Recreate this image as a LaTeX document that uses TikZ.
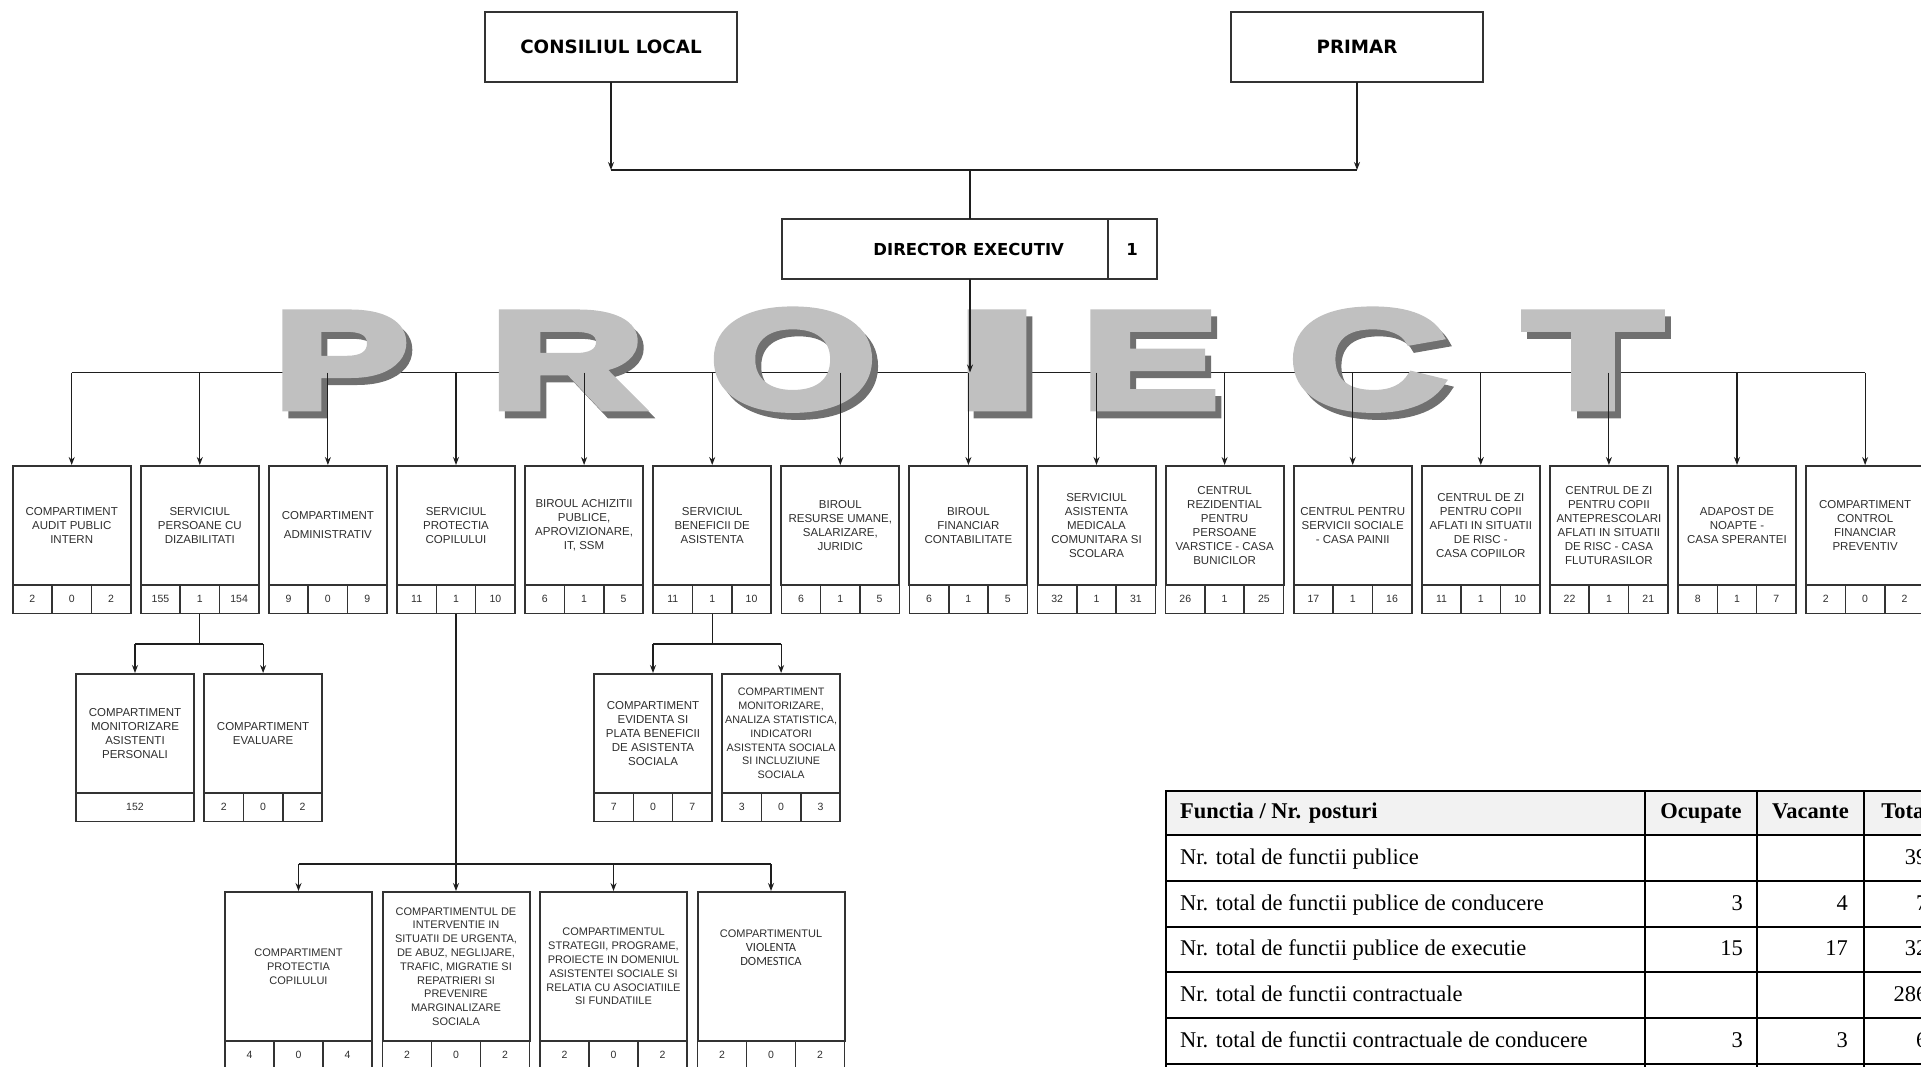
\documentclass[tikz,border=0pt]{standalone}
\usepackage{fontspec}
\setmainfont{Liberation Sans}
\newfontfamily\headfont{DejaVu Sans}
\newfontfamily\tabfont{Liberation Serif}
\newfontfamily\calfont{Carlito}
\newfontfamily\wmfont{Liberation Sans}[UprightFont={* Bold},FakeBold=5]
\usetikzlibrary{calc,positioning,arrows.meta}
\definecolor{boxclr}{HTML}{333333}
\definecolor{inkgray}{HTML}{2E2E2E}
\definecolor{lineclr}{HTML}{1E1E1E}
\definecolor{wmlight}{HTML}{C0C0C0}
\definecolor{wmdark}{HTML}{707070}
\definecolor{headfill}{HTML}{F2F2F2}
\tikzset{
  >={Stealth[length=8pt,width=6pt]},
  topbox/.style={
    rectangle,
    draw=boxclr, line width=2pt, outer sep=0pt,
    minimum width=252pt,
    minimum height=70pt,
    font=\headfont\bfseries\fontsize{18.3}{21}\selectfont},
  dirbox/.style={
    rectangle,
    draw=boxclr, line width=2pt, outer sep=0pt,
    minimum width=326pt,
    minimum height=60pt,
    font=\headfont\bfseries\fontsize{16.5}{20}\selectfont},
  dircell/.style={dirbox, minimum width=49pt},
  unitbox/.style={
    rectangle,
    draw=boxclr, line width=2pt, outer sep=0pt,
    minimum width=118pt,
    minimum height=119pt,
    inner sep=1pt,
    align=center,
    text=inkgray,
    font=\fontsize{11.5}{14}\selectfont},
  widebox/.style={unitbox, minimum width=147pt, minimum height=149pt,
    font=\fontsize{11}{13.8}\selectfont},
  countrow/.style={draw=boxclr, line width=1.6pt},
  countnum/.style={text=inkgray, inner sep=0pt, font=\fontsize{10.5}{12}\selectfont},
  link/.style={draw=lineclr, line width=1.1pt},
  wmletter/.style={inner sep=0pt, anchor=base},
  tabline/.style={draw=black, line width=2pt},
  tabtext/.style={inner sep=0pt, text height=15pt, text depth=4pt,
    font=\tabfont\fontsize{22.5}{26}\selectfont},
}
% three cells with the posts under a box
\newcommand{\unitcounts}[4]{%
  \draw[countrow] (#1.south west) rectangle ($(#1.south east)+(0,28.5)$);
  \draw[countrow] ($(#1.south west)!1/3!(#1.south east)$) -- ++(0,28.5)
                  ($(#1.south west)!2/3!(#1.south east)$) -- ++(0,28.5);
  \node[countnum] (#1-occ) at ($(#1.south west)!1/6!(#1.south east)+(0,14.25)$) {#2};
  \node[countnum] (#1-vac) at ($(#1.south)+(0,14.25)$) {#3};
  \node[countnum] (#1-tot) at ($(#1.south west)!5/6!(#1.south east)+(0,14.25)$) {#4};
}

\begin{document}
\begin{tikzpicture}[x=1pt, y=-1pt]
  \useasboundingbox (0,0) rectangle (1921,1066);
  % head of the chart
  \node[topbox] (consiliu) at (611,47) {CONSILIUL LOCAL};
  \node[topbox] (primar) at (1357,47) {PRIMAR};
  \node[dirbox] (dir) at (944.7,249) {\hspace*{48pt}DIRECTOR EXECUTIV};
  \node[dircell, right=0pt of dir] (dirnr) {1};
  \coordinate (meet) at (970,170);
  \coordinate (bus) at (970,372.5);
  \draw[link,->] (consiliu.south) -- (consiliu.south |- meet);
  \draw[link,->] (primar.south) -- (primar.south |- meet);
  \draw[link] (consiliu.south |- meet) -- (primar.south |- meet);
  \draw[link] (meet) -- (meet |- dir.north);

  % first level
  \node[unitbox] (u1) at (71.7,525.5) {COMPARTIMENT\\AUDIT PUBLIC\\INTERN};
  \node[unitbox, right=10.1pt of u1] (u2) {SERVICIUL\\PERSOANE CU\\DIZABILITATI};
  \node[unitbox, right=10.1pt of u2] (u3) {COMPARTIMENT\\[5pt]ADMINISTRATIV};
  \node[unitbox, right=10.1pt of u3] (u4) {SERVICIUL\\PROTECTIA\\COPILULUI};
  \node[unitbox, right=10.1pt of u4] (u5) {BIROUL ACHIZITII\\PUBLICE,\\APROVIZIONARE,\\IT, SSM};
  \node[unitbox, right=10.1pt of u5] (u6) {SERVICIUL\\BENEFICII DE\\ASISTENTA};
  \node[unitbox, right=10.1pt of u6] (u7) {BIROUL\\RESURSE UMANE,\\SALARIZARE,\\JURIDIC};
  \node[unitbox, right=10.1pt of u7] (u8) {BIROUL\\FINANCIAR\\CONTABILITATE};
  \node[unitbox, right=10.1pt of u8] (u9) {SERVICIUL\\ASISTENTA\\MEDICALA\\COMUNITARA SI\\SCOLARA};
  \node[unitbox, right=10.1pt of u9] (u10) {CENTRUL\\REZIDENTIAL\\PENTRU\\PERSOANE\\VARSTICE - CASA\\BUNICILOR};
  \node[unitbox, right=10.1pt of u10] (u11) {CENTRUL PENTRU\\SERVICII SOCIALE\\- CASA PAINII};
  \node[unitbox, right=10.1pt of u11] (u12) {CENTRUL DE ZI\\PENTRU COPII\\AFLATI IN SITUATII\\DE RISC -\\CASA COPIILOR};
  \node[unitbox, right=10.1pt of u12] (u13) {CENTRUL DE ZI\\PENTRU COPII\\ANTEPRESCOLARI\\AFLATI IN SITUATII\\DE RISC - CASA\\FLUTURASILOR};
  \node[unitbox, right=10.1pt of u13] (u14) {ADAPOST DE\\NOAPTE -\\CASA SPERANTEI};
  \node[unitbox, right=10.1pt of u14] (u15) {COMPARTIMENT\\CONTROL\\FINANCIAR\\PREVENTIV};
  \unitcounts{u1}{2}{0}{2}
  \unitcounts{u2}{155}{1}{154}
  \unitcounts{u3}{9}{0}{9}
  \unitcounts{u4}{11}{1}{10}
  \unitcounts{u5}{6}{1}{5}
  \unitcounts{u6}{11}{1}{10}
  \unitcounts{u7}{6}{1}{5}
  \unitcounts{u8}{6}{1}{5}
  \unitcounts{u9}{32}{1}{31}
  \unitcounts{u10}{26}{1}{25}
  \unitcounts{u11}{17}{1}{16}
  \unitcounts{u12}{11}{1}{10}
  \unitcounts{u13}{22}{1}{21}
  \unitcounts{u14}{8}{1}{7}
  \unitcounts{u15}{2}{0}{2}
  \draw[link] (u1.north |- bus) -- (u15.north |- bus);

  % the PROIECT watermark, shadow first
  \foreach \ch/\cx/\w/\h in {P/341/134/95, R/567/154/95, O/793/165/98,
      I/997/84/95, E/1150/136/95, C/1368/157/98, T/1593/137/95}{
    \node[wmletter, text=wmdark] (shadow-\ch) at (\cx+6,415)
      {\resizebox{\w pt}{\h pt}{\wmfont \ch}};
    \node[wmletter, text=wmlight] (wm-\ch) at (\cx,408)
      {\resizebox{\w pt}{\h pt}{\wmfont \ch}};
  }
  \draw[link,->] (meet |- dir.south) -- (bus);
  \foreach \u in {u1,u2,u3,u4,u5,u6,u7,u8,u9,u10,u11,u12,u13,u14,u15}
    \draw[link,->,shorten >=1pt] (\u.north |- bus) -- (\u.north);

  % second level
  \coordinate (sub) at (0,644);
  \coordinate (low) at (0,864);
  \node[unitbox] (u2a) at (135,733.5) {COMPARTIMENT\\MONITORIZARE\\ASISTENTI\\PERSONALI};
  \node[unitbox, right=10.1pt of u2a] (u2b) {COMPARTIMENT\\EVALUARE};
  \node[unitbox] (u6a) at (653,733.5) {COMPARTIMENT\\EVIDENTA SI\\PLATA BENEFICII\\DE ASISTENTA\\SOCIALA};
  \node[unitbox, right=10.1pt of u6a, font=\fontsize{10.8}{13.8}\selectfont] (u6b)
    {COMPARTIMENT\\MONITORIZARE,\\ANALIZA STATISTICA,\\INDICATORI\\ASISTENTA SOCIALA\\SI INCLUZIUNE\\SOCIALA};
  \draw[countrow] (u2a.south west) rectangle ($(u2a.south east)+(0,28.5)$);
  \node[countnum] (u2a-tot) at ($(u2a.south)+(0,14.25)$) {152};
  \unitcounts{u2b}{2}{0}{2}
  \unitcounts{u6a}{7}{0}{7}
  \unitcounts{u6b}{3}{0}{3}
  \draw[link] ($(u2.south)+(0,28.5)$) -- (u2.south |- sub);
  \draw[link] (u2a.north |- sub) -- (u2b.north |- sub);
  \draw[link,->,shorten >=1pt] (u2a.north |- sub) -- (u2a.north);
  \draw[link,->,shorten >=1pt] (u2b.north |- sub) -- (u2b.north);
  \draw[link] ($(u6.south)+(0,28.5)$) -- (u6.south |- sub);
  \draw[link] (u6a.north |- sub) -- (u6b.north |- sub);
  \draw[link,->,shorten >=1pt] (u6a.north |- sub) -- (u6a.north);
  \draw[link,->,shorten >=1pt] (u6b.north |- sub) -- (u6b.north);

  % third level, under the child protection service
  \node[widebox] (w1) at (298.5,966.5) {COMPARTIMENT\\PROTECTIA\\COPILULUI};
  \node[widebox, right=10.5pt of w1] (w2) {COMPARTIMENTUL DE\\INTERVENTIE IN\\SITUATII DE URGENTA,\\DE ABUZ, NEGLIJARE,\\TRAFIC, MIGRATIE SI\\REPATRIERI SI\\PREVENIRE\\MARGINALIZARE\\SOCIALA};
  \node[widebox, right=10.5pt of w2] (w3) {COMPARTIMENTUL\\STRATEGII, PROGRAME,\\PROIECTE IN DOMENIUL\\ASISTENTEI SOCIALE SI\\RELATIA CU ASOCIATIILE\\SI FUNDATIILE};
  \node[widebox, right=10.5pt of w3] (w4) {COMPARTIMENTUL\\{\calfont\fontsize{12.5}{13.8}\selectfont VIOLENTA}\\{\calfont\fontsize{12.5}{13.8}\selectfont DOMESTICA}\\[24pt]\mbox{}};
  \unitcounts{w1}{4}{0}{4}
  \unitcounts{w2}{2}{0}{2}
  \unitcounts{w3}{2}{0}{2}
  \unitcounts{w4}{2}{0}{2}
  \draw[link] ($(u4.south)+(0,28.5)$) -- (u4.south |- low);
  \draw[link] (w1.north |- low) -- (w4.north |- low);
  \foreach \w in {w1,w2,w3,w4}
    \draw[link,->,shorten >=1pt] (\w.north |- low) -- (\w.north);

  % table of posts
  \fill[headfill] (1166,790.7) rectangle (1960,835);
  \foreach \y in {790.7,835,880.8,926.6,972.4,1018.2,1064}
    \draw[tabline] (1165,\y) -- (1960,\y);
  \foreach \x in {1166,1645,1757,1864,1943}
    \draw[tabline] (\x,790.7) -- (\x,1070);
  \node[tabtext, anchor=west, font=\tabfont\bfseries\fontsize{22.5}{26}\selectfont] (th-fn) at (1180,812.9) {Functia / Nr. posturi};
  \node[tabtext, font=\tabfont\bfseries\fontsize{22.5}{26}\selectfont] (th-occ) at (1701,812.9) {Ocupate};
  \node[tabtext, font=\tabfont\bfseries\fontsize{22.5}{26}\selectfont] (th-vac) at (1810.5,812.9) {Vacante};
  \node[tabtext, font=\tabfont\bfseries\fontsize{22.5}{26}\selectfont] (th-tot) at (1906,812.9) {Total};
  \foreach \i/\lbl/\occ/\vac/\tot in {
      1/Nr. total de functii publice/{}/{}/39,
      2/Nr. total de functii publice de conducere/3/4/7,
      3/Nr. total de functii publice de executie/15/17/32,
      4/Nr. total de functii contractuale/{}/{}/286,
      5/Nr. total de functii contractuale de conducere/3/3/6}{
    \node[tabtext, anchor=west] (row\i) at (1180,{812.9+45.8*\i}) {\lbl};
    \node[tabtext, anchor=east] (row\i-occ) at (1743,{812.9+45.8*\i}) {\occ};
    \node[tabtext, anchor=east] (row\i-vac) at (1848,{812.9+45.8*\i}) {\vac};
    \node[tabtext, anchor=east] (row\i-tot) at (1927.5,{812.9+45.8*\i}) {\tot};
  }
\end{tikzpicture}
\end{document}
